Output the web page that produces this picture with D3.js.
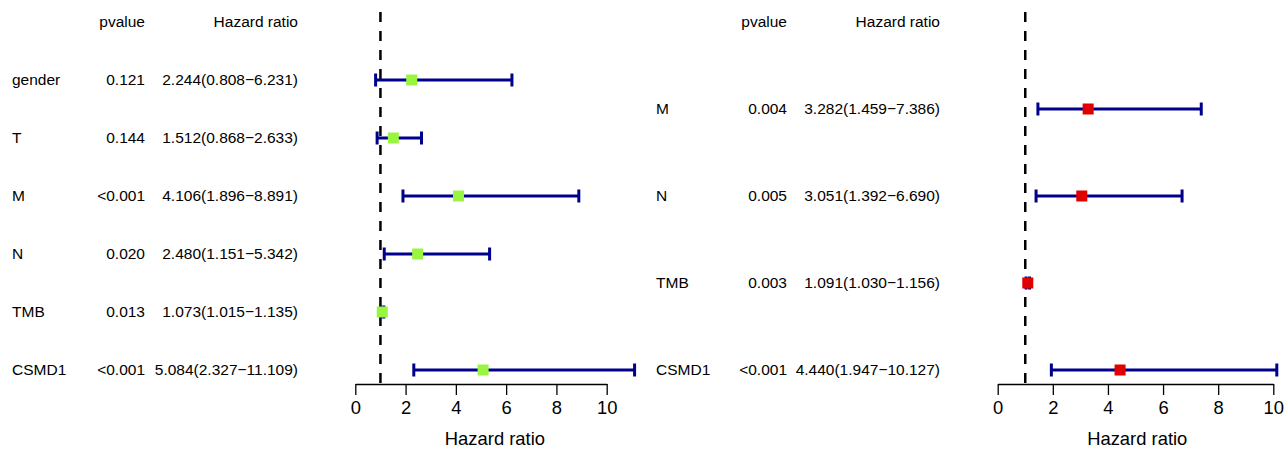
<!DOCTYPE html>
<html>
<head>
<meta charset="utf-8">
<script src="https://cdn.jsdelivr.net/npm/d3@7"></script>
<style>
  body { margin: 0; background: #fff; }
  svg { display: block; font-family: "Liberation Sans", Arial, sans-serif; }
</style>
</head>
<body>
<svg></svg>
<script>
// left panel (univariate)
var uniNames = ["gender", "T", "M", "N", "TMB", "CSMD1"];
var uniP = ["0.121", "0.144", "<0.001", "0.020", "0.013", "<0.001"];
var uniHR = [2.244, 1.512, 4.106, 2.480, 1.073, 5.084];
var uniLow = [0.808, 0.868, 1.896, 1.151, 1.015, 2.327];
var uniHigh = [6.231, 2.633, 8.891, 5.342, 1.135, 11.109];

// right panel (multivariate)
var multiNames = ["M", "N", "TMB", "CSMD1"];
var multiP = ["0.004", "0.005", "0.003", "<0.001"];
var multiHR = [3.282, 3.051, 1.091, 4.440];
var multiLow = [1.459, 1.392, 1.030, 1.947];
var multiHigh = [7.386, 6.690, 1.156, 10.127];

var xTicks = [0, 2, 4, 6, 8, 10];

var width = 1285, height = 449;

var svg = d3.select("svg")
    .attr("width", width)
    .attr("height", height);

function fmt(v) { return v.toFixed(3); }

function drawPanel(opt) {
    var n = opt.names.length;
    var g = svg.append("g");

    var x = d3.scaleLinear()
        .domain([0, 10])
        .range([opt.x0, opt.x10]);

    // row n is the header, row 0 the bottom line
    var y = d3.scaleLinear()
        .domain([0, n])
        .range([370, 22]);

    var rows = opt.names.map(function (d, i) {
        return {
            name: d,
            p: opt.p[i],
            hr: opt.hr[i],
            low: opt.low[i],
            high: opt.high[i],
            row: n - 1 - i
        };
    });

    // header
    g.append("text")
        .attr("x", opt.pRight)
        .attr("y", y(n))
        .attr("dy", "0.35em")
        .attr("text-anchor", "end")
        .attr("font-size", "15.5px")
        .text("pvalue");
    g.append("text")
        .attr("x", opt.hrRight)
        .attr("y", y(n))
        .attr("dy", "0.35em")
        .attr("text-anchor", "end")
        .attr("font-size", "15.5px")
        .text("Hazard ratio");

    var txt = g.selectAll(".row")
        .data(rows)
        .enter().append("g")
        .attr("class", "row")
        .attr("transform", function (d) { return "translate(0," + y(d.row) + ")"; });

    txt.append("text")
        .attr("x", opt.nameX)
        .attr("dy", "0.35em")
        .attr("font-size", "15.5px")
        .text(function (d) { return d.name; });
    txt.append("text")
        .attr("x", opt.pRight)
        .attr("dy", "0.35em")
        .attr("text-anchor", "end")
        .attr("font-size", "15.5px")
        .text(function (d) { return d.p; });
    txt.append("text")
        .attr("x", opt.hrRight)
        .attr("dy", "0.35em")
        .attr("text-anchor", "end")
        .attr("font-size", "15.5px")
        .text(function (d) { return fmt(d.hr) + "(" + fmt(d.low) + "\u2212" + fmt(d.high) + ")"; });

    // reference line at HR = 1
    g.append("line")
        .attr("x1", x(1)).attr("x2", x(1))
        .attr("y1", 12).attr("y2", 384)
        .attr("stroke", "#000")
        .attr("stroke-width", 2.5)
        .attr("stroke-dasharray", "10,9");

    // CIs
    var ci = g.selectAll(".ci")
        .data(rows)
        .enter().append("g")
        .attr("class", "ci")
        .attr("stroke", "#00008b")
        .attr("stroke-width", 3);
    ci.append("line")
        .attr("x1", function (d) { return x(d.low); })
        .attr("x2", function (d) { return x(d.high); })
        .attr("y1", function (d) { return y(d.row); })
        .attr("y2", function (d) { return y(d.row); });
    ci.append("line")
        .attr("x1", function (d) { return x(d.low); })
        .attr("x2", function (d) { return x(d.low); })
        .attr("y1", function (d) { return y(d.row) - 6.5; })
        .attr("y2", function (d) { return y(d.row) + 6.5; });
    ci.append("line")
        .attr("x1", function (d) { return x(d.high); })
        .attr("x2", function (d) { return x(d.high); })
        .attr("y1", function (d) { return y(d.row) - 6.5; })
        .attr("y2", function (d) { return y(d.row) + 6.5; });

    g.selectAll(".box")
        .data(rows)
        .enter().append("rect")
        .attr("class", "box")
        .attr("x", function (d) { return x(d.hr) - 5.5; })
        .attr("y", function (d) { return y(d.row) - 5.5; })
        .attr("width", 11)
        .attr("height", 11)
        .attr("fill", opt.boxColor);

    // axis
    var axis = g.append("g")
        .attr("transform", "translate(0,384)")
        .call(d3.axisBottom(x).tickValues(xTicks).tickSize(11).tickSizeOuter(0).tickPadding(6));
    axis.select(".domain").attr("stroke-width", 1.3);
    axis.selectAll(".tick line").attr("stroke-width", 1.3);
    axis.selectAll(".tick text")
        .attr("font-size", "18.4px")
        .attr("font-family", "Liberation Sans, Arial, sans-serif");

    var maxHigh = d3.max(rows, function (d) { return d.high; });
    g.append("text")
        .attr("x", x(maxHigh / 2))
        .attr("y", 445)
        .attr("text-anchor", "middle")
        .attr("font-size", "18.4px")
        .text("Hazard ratio");
}

drawPanel({
    names: uniNames, p: uniP, hr: uniHR, low: uniLow, high: uniHigh,
    nameX: 12, pRight: 145, hrRight: 298,
    x0: 355.3, x10: 606.7,
    boxColor: "#99f53f"
});

drawPanel({
    names: multiNames, p: multiP, hr: multiHR, low: multiLow, high: multiHigh,
    nameX: 656, pRight: 787, hrRight: 940,
    x0: 997.7, x10: 1273.3,
    boxColor: "#e00000"
});
</script>
</body>
</html>
